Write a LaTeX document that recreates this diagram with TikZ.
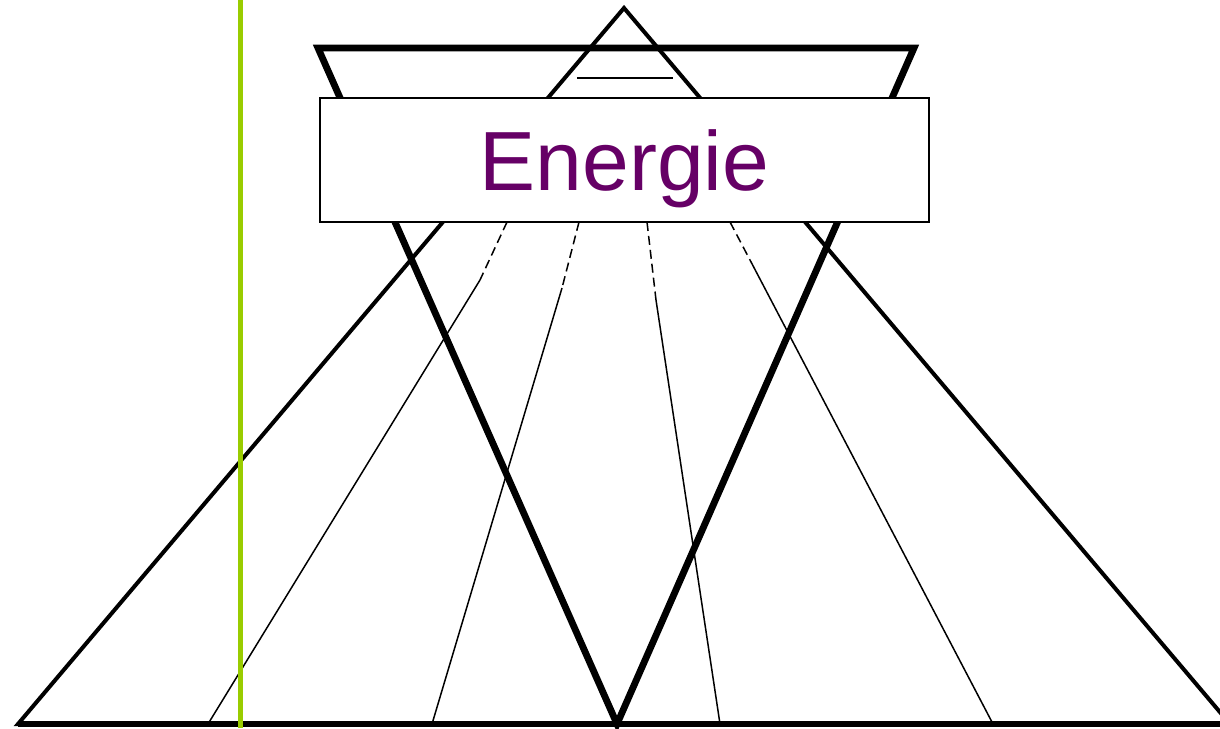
\documentclass[tikz,border=0pt]{standalone}
\usepackage{fontspec}
\setmainfont{Liberation Sans}
\usetikzlibrary{calc}

\definecolor{energiepurple}{RGB}{102,0,102}
\definecolor{limegreen}{RGB}{153,204,0}

\begin{document}
\begin{tikzpicture}[x=0.5pt, y=-0.5pt]

    \useasboundingbox (0,0) rectangle (1220,728);
    \clip (0,0) rectangle (1220,728);

    % grosses Dreieck
    \coordinate (T) at (624,8);
    \coordinate (L) at (18,724);
    \coordinate (R) at (1230,724);

    % umgekehrtes Dreieck
    \coordinate (P) at (318,48);
    \coordinate (Q) at (914,48);
    \coordinate (S) at (617,724);

    % Fusspunkte der duennen Linien
    \coordinate (F1) at (208,724);
    \coordinate (F2) at (432,724);
    \coordinate (F3) at (720,724);
    \coordinate (F4) at (993,724);

    \draw[line width=2pt] (T) -- (L) -- (R) -- cycle;
    \draw[line width=2.6pt] (L) -- (R);
    \draw[line width=3.4pt] (P) -- (Q) -- (S) -- cycle;

    % Strich in der Spitze
    \draw[line width=0.75pt] (577,78) -- (673,78);

    % Kasten
    \node[draw, line width=1pt, fill=white, minimum width=304.5pt,
          minimum height=62pt, inner sep=0pt, text depth=0pt, text=energiepurple,
          font=\fontsize{42}{44}\selectfont] (energie) at (624.5,160) {Energie};

    % Linien vom Kasten zur Grundlinie
    \coordinate (D1) at (480,280);
    \coordinate (D2) at (562,288);
    \coordinate (D3) at (656,300);
    \coordinate (D4) at (750,260);

    \draw[line width=0.75pt, dash pattern=on 4.5pt off 2.5pt] (507,222) -- (D1);
    \draw[line width=0.75pt, dash pattern=on 4.5pt off 2.5pt] (579,222) -- (D2);
    \draw[line width=0.75pt, dash pattern=on 4.5pt off 2.5pt] (647,222) -- (D3);
    \draw[line width=0.75pt, dash pattern=on 4.5pt off 2.5pt] (730,222) -- (D4);

    \draw[line width=0.75pt] (D1) -- (F1);
    \draw[line width=0.75pt] (D2) -- (F2);
    \draw[line width=0.75pt] (D3) -- (F3);
    \draw[line width=0.75pt] (D4) -- (F4);

    % gruene Linie
    \draw[line width=2.5pt, limegreen] (240,0) -- (240,728);

\end{tikzpicture}
\end{document}
